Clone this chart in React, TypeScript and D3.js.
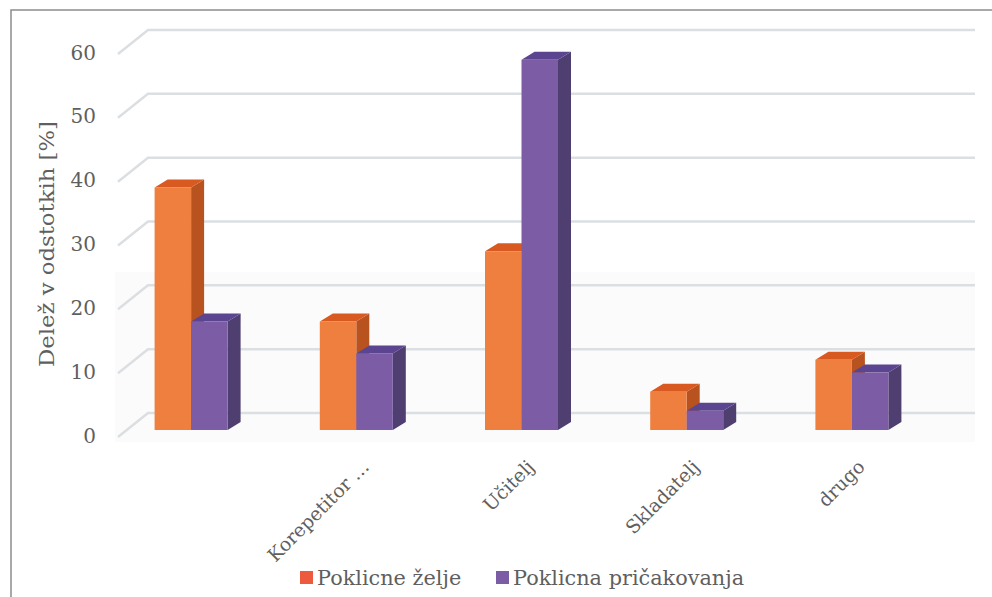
import React from "react";
import * as d3 from "d3";

const categories = ["", "Korepetitor …", "Učitelj", "Skladatelj", "drugo"];
const seriesNames = ["Poklicne želje", "Poklicna pričakovanja"];
const zelje = [38, 17, 28, 6, 11];
const pricakovanja = [17, 12, 58, 3, 9];
const yTicks = [0, 10, 20, 30, 40, 50, 60];

const FONT = "'DejaVu Serif', serif";
const TXT = "#5f5f5f";

const frontCol = ["#EE7F3F", "#7C5CA5"];
const topCol = ["#D95A21", "#5B4590"];
const sideCol = ["#B8531F", "#4F3E70"];
const legendCol = ["#EE5A3E", "#7C5CA5"];

export default function App() {
  const W = 992, H = 597;
  const yBack = d3.scaleLinear().domain([0, 60]).range([413, 30]);
  const yFront = d3.scaleLinear().domain([0, 60]).range([437, 54]);
  const yBar = d3.scaleLinear().domain([0, 60]).range([430, 47]);
  const xBand = d3.scaleBand<string>().domain(categories.map((c, i) => String(i))).range([108.5, 934.5]);
  const xSub = d3.scaleBand<number>().domain([0, 1]).range([0, 73]);
  const bw = xSub.bandwidth();
  const dx = 13, dy = -8;
  const series = [zelje, pricakovanja];

  const bars: React.ReactNode[] = [];
  categories.forEach((c, i) => {
    const cx = (xBand(String(i)) as number) + xBand.bandwidth() / 2 - 36.5;
    series.forEach((vals, s) => {
      const x = cx + (xSub(s) as number);
      const y0 = yBar(0);
      const yt = yBar(vals[i]);
      const w = bw;
      bars.push(
        <g key={`b${i}-${s}`}>
          <polygon
            points={`${x + w},${yt} ${x + w + dx},${yt + dy} ${x + w + dx},${y0 + dy} ${x + w},${y0}`}
            fill={sideCol[s]}
          />
          <polygon
            points={`${x},${yt} ${x + dx},${yt + dy} ${x + w + dx},${yt + dy} ${x + w},${yt}`}
            fill={topCol[s]}
          />
          <rect x={x} y={yt} width={w} height={y0 - yt} fill={frontCol[s]} />
        </g>
      );
    });
  });

  return (
    <svg width={W} height={H} style={{ position: "absolute", left: 0, top: 0, background: "#fff" }}>
      <rect x={0} y={0} width={W} height={H} fill="#fff" />
      <rect x={115} y={272} width={860} height={170} fill="#fbfbfb" />
      <rect x={11} y={10} width={1200} height={1200} fill="none" stroke="#8c8c8c" strokeWidth={1.5} />
      {yTicks.map((t) => (
        <g key={t}>
          <polyline
            points={`118,${yFront(t)} 148,${yBack(t)} 975,${yBack(t)}`}
            fill="none"
            stroke="#dcdfe2"
            strokeWidth={2.5}
          />
          <text x={96} y={yFront(t)} textAnchor="end" dominantBaseline="middle" fontFamily={FONT} fontSize={20} fill={TXT}>
            {t}
          </text>
        </g>
      ))}
      {bars}
      {categories.map((c, i) => {
        const cx = (xBand(String(i)) as number) + xBand.bandwidth() / 2;
        const ax = cx + 14;
        const ay = 468;
        return (
          <text key={`c${i}`} x={ax} y={ay} textAnchor="end" transform={`rotate(-45 ${ax} ${ay})`} fontFamily={FONT} fontSize={18.8} fill={TXT}>
            {c}
          </text>
        );
      })}
      <text
        x={0}
        y={0}
        transform={`translate(54 244) rotate(-90)`}
        textAnchor="middle"
        fontFamily={FONT}
        fontSize={20}
        textLength={246}
        lengthAdjust="spacingAndGlyphs"
        fill={TXT}
      >
        Delež v odstotkih [%]
      </text>
      {seriesNames.map((n, s) => {
        const lx = s === 0 ? 300 : 496;
        return (
          <g key={n}>
            <rect x={lx} y={571} width={13} height={13} fill={legendCol[s]} />
            <text x={lx + 17} y={585} fontFamily={FONT} fontSize={20.8} fill={TXT}>
              {n}
            </text>
          </g>
        );
      })}
    </svg>
  );
}
